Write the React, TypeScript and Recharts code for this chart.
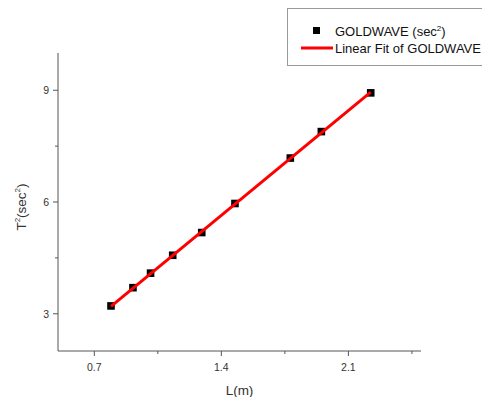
import React from 'react';
import { ScatterChart, Scatter, XAxis, YAxis, Legend, Label } from 'recharts';

const lengthM = [0.792, 0.913, 1.01, 1.132, 1.292, 1.475, 1.78, 1.951, 2.223];
const periodSq = [3.21, 3.7, 4.09, 4.57, 5.18, 5.96, 7.18, 7.89, 8.93];
const fitX = [0.792, 2.223];
const fitY = [3.2, 8.95];
const xMajorTicks = [0.7, 1.4, 2.1];
const xMinorTicks = [1.05, 1.75, 2.45];
const yMajorTicks = [3, 6, 9];
const yMinorTicks = [4.5, 7.5];
const xDomain: [number, number] = [0.5, 2.5];
const yDomain: [number, number] = [2, 10];
const seriesName = 'GOLDWAVE';

const points = lengthM.map((x, i) => ({ x, y: periodSq[i] }));
const fitPoints = fitX.map((x, i) => ({ x, y: fitY[i] }));
const xTicks = [...xMajorTicks, ...xMinorTicks].sort((a, b) => a - b);
const yTicks = [...yMajorTicks, ...yMinorTicks].sort((a, b) => a - b);

const AXIS = '#555';
const TEXT = '#333';
const FONT = 'Liberation Sans, Arial, sans-serif';

const XTick = (props: any) => {
  const { x, y, payload } = props;
  const major = xMajorTicks.includes(payload.value);
  return (
    <g>
      <line x1={x} x2={x} y1={y} y2={y + (major ? 5 : 3)} stroke={AXIS} strokeWidth={1} />
      {major && (
        <text x={x} y={y + 20} textAnchor="middle" fontSize={10.5} fill={TEXT} fontFamily={FONT}>
          {payload.value}
        </text>
      )}
    </g>
  );
};

const YTick = (props: any) => {
  const { x, y, payload } = props;
  const major = yMajorTicks.includes(payload.value);
  return (
    <g>
      <line x1={x} x2={x - (major ? 5 : 3)} y1={y} y2={y} stroke={AXIS} strokeWidth={1} />
      {major && (
        <text x={x - 9} y={y + 3.8} textAnchor="end" fontSize={10.5} fill={TEXT} fontFamily={FONT}>
          {payload.value}
        </text>
      )}
    </g>
  );
};

const XTitle = (props: any) => {
  const { viewBox } = props;
  const cx = viewBox.x + viewBox.width / 2;
  return (
    <text x={cx} y={395} textAnchor="middle" fontSize={13.5} fill={TEXT} fontFamily={FONT}>
      L(m)
    </text>
  );
};

const YTitle = (props: any) => {
  const cx = 26;
  const cy = 207;
  return (
    <text
      x={cx}
      y={cy}
      textAnchor="middle"
      fontSize={13.5}
      fill={TEXT}
      fontFamily={FONT}
      transform={`rotate(-90, ${cx}, ${cy})`}
    >
      T<tspan dy={-6} fontSize={8}>2</tspan>
      <tspan dy={6}>(sec</tspan>
      <tspan dy={-6} fontSize={8}>2</tspan>
      <tspan dy={6}>)</tspan>
    </text>
  );
};

const LegendBox = () => (
  <svg width={230} height={60} style={{ display: 'block' }}>
    <rect x={0.5} y={0.5} width={240} height={57} fill="#fff" stroke="#999" strokeWidth={1} />
    <rect x={26} y={19} width={7} height={7} fill="#000" />
    <text x={48} y={28} fontSize={13} fill="#111" fontFamily={FONT}>
      {seriesName} (sec<tspan dy={-5} fontSize={8}>2</tspan>
      <tspan dy={5}>)</tspan>
    </text>
    <line x1={14} x2={46} y1={40} y2={40} stroke="#ff0000" strokeWidth={3} />
    <text x={48} y={44.5} fontSize={13} fill="#111" fontFamily={FONT}>
      Linear Fit of {seriesName}
    </text>
  </svg>
);

export default function App() {
  return (
    <div style={{ position: 'absolute', left: 0, top: 0, width: 482, height: 397, overflow: 'hidden', background: '#fff' }}>
      <ScatterChart width={482} height={397} margin={{ top: 53, right: 61, bottom: 0, left: 0 }}>
        <XAxis
          type="number"
          dataKey="x"
          domain={xDomain}
          ticks={xTicks}
          allowDataOverflow
          height={46}
          stroke={AXIS}
          tickSize={0}
          tickMargin={0}
          tickLine={false}
          tick={(p: any) => <XTick {...p} />}
          interval={0}
        >
          <Label content={(p: any) => <XTitle {...p} />} />
        </XAxis>
        <YAxis
          type="number"
          dataKey="y"
          domain={yDomain}
          ticks={yTicks}
          allowDataOverflow
          width={58}
          stroke={AXIS}
          tickSize={0}
          tickMargin={0}
          tickLine={false}
          tick={(p: any) => <YTick {...p} />}
          interval={0}
        >
          <Label content={(p: any) => <YTitle {...p} />} />
        </YAxis>
        <Legend
          layout="horizontal"
          verticalAlign="middle"
          align="center"
          content={() => <LegendBox />}
          wrapperStyle={{ left: 287, top: 8, width: 230, height: 60 }}
        />
        <Scatter
          name={seriesName}
          data={points}
          isAnimationActive={false}
          shape={(p: any) => <rect x={p.cx - 3.8} y={p.cy - 3.8} width={7.6} height={7.6} fill="#000" />}
        />
        <Scatter
          name={`Linear Fit of ${seriesName}`}
          data={fitPoints}
          isAnimationActive={false}
          line={{ stroke: '#ff0000', strokeWidth: 3 }}
          shape={() => <g />}
        />
      </ScatterChart>
    </div>
  );
}
